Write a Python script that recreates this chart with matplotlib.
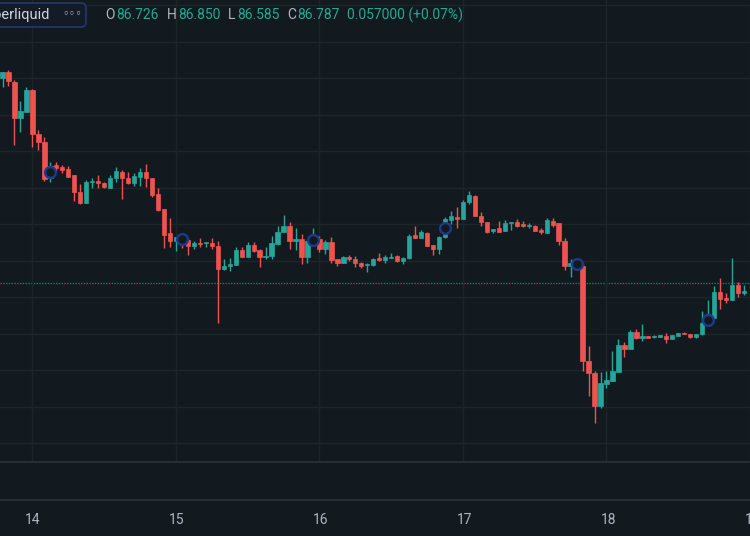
import numpy as np
import matplotlib.pyplot as plt
from matplotlib.patches import FancyBboxPatch

# hourly candles, the first one opens on the 13th at 19:00
first_hour = 19
days = ["14", "15", "16", "17", "18", "19"]

opens = [92.01, 92.16, 91.90, 90.92, 91.08, 91.67, 90.47, 90.25, 89.26, 89.62,
         89.57, 89.50, 89.34, 88.88, 88.58, 89.15, 89.19, 89.12, 88.99, 89.25,
         89.44, 89.26, 89.12, 89.29, 89.43, 89.26, 88.82, 88.40, 87.75, 87.53,
         87.60, 87.56, 87.40, 87.49, 87.47, 87.47, 87.40, 86.77, 86.85, 86.88,
         87.29, 87.10, 87.44, 87.29, 87.09, 87.12, 87.45, 87.79, 87.95, 87.53,
         87.59, 87.10, 87.53, 87.59, 87.31, 87.50, 87.03, 86.94, 87.10, 87.05,
         86.93, 86.88, 86.88, 87.06, 87.01, 87.08, 87.12, 86.98, 87.06, 87.70,
         87.62, 87.75, 87.42, 87.31, 87.65, 88.11, 88.20, 88.14, 88.61, 88.78,
         88.22, 88.06, 87.81, 87.88, 87.81, 88.02, 88.06, 87.99, 87.95, 87.95,
         87.84, 87.76, 88.08, 88.02, 87.54, 86.85, 86.89, 86.85, 84.25, 83.93,
         83.02, 83.61, 83.71, 83.95, 84.68, 84.59, 85.03, 84.89, 84.92, 84.90,
         84.91, 84.93, 84.86, 84.94, 85.02, 84.99, 84.90, 84.98, 85.32, 85.43,
         86.15, 85.98, 85.92, 86.33, 86.10]
highs = [92.18, 92.22, 91.95, 91.38, 91.75, 91.70, 90.59, 90.39, 89.70, 89.71,
         89.61, 89.59, 89.35, 89.09, 89.21, 89.27, 89.34, 89.15, 89.34, 89.57,
         89.48, 89.42, 89.39, 89.55, 89.64, 89.27, 88.99, 88.41, 88.17, 87.65,
         87.67, 87.62, 87.54, 87.61, 87.52, 87.61, 87.54, 87.03, 87.06, 87.36,
         87.36, 87.52, 87.52, 87.33, 87.38, 87.67, 87.95, 88.25, 88.05, 87.88,
         87.72, 87.58, 87.89, 87.67, 87.56, 87.64, 87.04, 87.12, 87.14, 87.12,
         86.95, 86.92, 87.08, 87.20, 87.15, 87.21, 87.14, 87.10, 87.73, 87.95,
         87.85, 87.79, 87.43, 87.68, 88.18, 88.36, 88.46, 88.66, 88.91, 88.79,
         88.34, 88.07, 87.87, 88.08, 88.11, 88.07, 88.14, 88.08, 88.04, 87.97,
         87.90, 88.17, 88.17, 88.03, 87.61, 87.04, 86.96, 86.92, 84.66, 83.98,
         83.95, 83.97, 84.52, 84.85, 84.76, 85.10, 85.12, 85.26, 84.94, 84.95,
         84.96, 85.01, 84.97, 85.02, 85.03, 85.00, 84.99, 85.62, 85.92, 86.30,
         86.51, 86.12, 87.06, 86.42, 86.33]
lows = [91.76, 91.78, 90.16, 90.53, 91.08, 90.12, 90.03, 89.19, 89.16, 89.45,
        89.39, 89.28, 88.64, 88.55, 88.57, 88.99, 88.98, 88.99, 88.98, 89.16,
        88.68, 89.10, 89.05, 89.04, 89.02, 88.75, 88.37, 87.35, 87.38, 87.27,
        87.34, 87.14, 87.32, 87.36, 87.38, 87.32, 85.28, 86.75, 86.72, 86.87,
        87.09, 87.09, 87.24, 86.83, 87.04, 87.03, 87.44, 87.78, 87.33, 87.29,
        86.90, 86.92, 87.48, 87.24, 87.18, 86.94, 86.85, 86.93, 86.99, 86.83,
        86.79, 86.69, 86.86, 86.99, 86.92, 87.06, 86.96, 86.90, 87.05, 87.61,
        87.61, 87.39, 87.15, 87.18, 87.61, 87.99, 87.90, 88.13, 88.55, 88.21,
        87.95, 87.75, 87.75, 87.78, 87.80, 87.85, 87.93, 87.93, 87.88, 87.80,
        87.73, 87.75, 87.93, 87.44, 86.74, 86.56, 86.79, 83.97, 83.30, 82.56,
        82.95, 83.50, 83.70, 83.94, 84.35, 84.58, 84.84, 84.80, 84.87, 84.87,
        84.90, 84.75, 84.85, 84.93, 84.98, 84.89, 84.89, 84.97, 85.29, 85.42,
        85.67, 85.84, 85.91, 86.01, 86.05]
closes = [92.16, 91.92, 90.92, 91.10, 91.67, 90.48, 90.24, 89.23, 89.59, 89.54,
          89.48, 89.30, 88.87, 88.58, 89.16, 89.18, 89.12, 89.01, 89.25, 89.45,
          89.25, 89.12, 89.32, 89.44, 89.25, 88.81, 88.38, 87.70, 87.54, 87.64,
          87.53, 87.40, 87.47, 87.46, 87.50, 87.40, 86.76, 86.86, 86.90, 87.29,
          87.10, 87.44, 87.27, 87.10, 87.12, 87.47, 87.79, 87.95, 87.53, 87.59,
          87.10, 87.53, 87.59, 87.31, 87.50, 87.01, 86.94, 87.10, 87.03, 86.92,
          86.86, 86.91, 87.05, 87.01, 87.10, 87.10, 86.98, 87.07, 87.68, 87.62,
          87.77, 87.41, 87.32, 87.65, 88.13, 88.22, 88.14, 88.61, 88.79, 88.22,
          88.06, 87.77, 87.86, 87.79, 88.04, 88.06, 87.95, 87.95, 87.97, 87.81,
          87.79, 88.11, 87.97, 87.53, 86.85, 86.92, 86.85, 84.25, 83.91, 83.02,
          83.64, 83.73, 83.98, 84.68, 84.57, 85.04, 84.89, 84.94, 84.88, 84.93,
          84.95, 84.86, 84.96, 85.01, 84.99, 84.90, 84.98, 85.30, 85.53, 86.15,
          85.96, 85.92, 86.33, 86.12, 86.17]

# circle markers of the indicator
marker_idx = [8, 30, 52, 74, 96, 118]
marker_price = [89.42, 87.60, 87.56, 87.88, 86.90, 85.37]
price_line = 86.39

header_name = "Hyperliquid"
header_ohlc = ["86.726", "86.850", "86.585", "86.787"]
header_change = "0.057000 (+0.07%)"

BG = "#121a1f"
GRID = "#1b252a"
SEP = "#2a3338"
UP = "#26a69a"
DOWN = "#ef5350"
TXT = "#b2b5be"

plt.rcParams['font.family'] = ['Roboto', 'DejaVu Sans']

o = np.array(opens)
h = np.array(highs)
l = np.array(lows)
c = np.array(closes)
x = np.arange(len(o))
cols = np.where(c >= o, UP, DOWN)

W, H = 750, 536
fig = plt.figure(figsize=(W / 100, H / 100), dpi=100, facecolor=BG)

# main price pane
ax = fig.add_axes([0, 74 / H, 1, 462 / H], facecolor=BG)
ax.set_xlim(-0.42, 124.58)
ax.set_ylim(81.48, 94.14)

day_idx = [i for i in range(len(o) + 1) if (first_hour + i) % 24 == 0]
ax.set_xticks(day_idx)
ax.set_yticks(np.arange(82, 95))
ax.grid(True, color=GRID, linewidth=1)
ax.tick_params(length=0, labelbottom=False, labelleft=False)
for s in ax.spines.values():
    s.set_visible(False)

ax.axhline(price_line, color="#1d7a70", linewidth=1, linestyle=(0, (1, 1)), zorder=1)
ax.vlines(x, l, h, colors=cols, linewidth=1, zorder=2)
ax.bar(x, c - o, bottom=o, width=0.72, color=cols, edgecolor=cols, linewidth=0.5, zorder=3)
ax.scatter(marker_idx, marker_price, s=60, facecolors=BG, edgecolors="#1d3a8a",
           linewidths=1.7, zorder=4)

# empty lower pane with the time scale under it
ax2 = fig.add_axes([0, 36 / H, 1, 38 / H], facecolor=BG)
ax2.set_xlim(-0.42, 124.58)
ax2.set_xticks([])
ax2.set_yticks([])
for s in ("left", "right"):
    ax2.spines[s].set_visible(False)
for s in ("top", "bottom"):
    ax2.spines[s].set_color(SEP)
    ax2.spines[s].set_linewidth(1.2)
for d, lab in zip(day_idx, days):
    ax2.annotate(lab, xy=(d, 0), xycoords=("data", "axes fraction"),
                 xytext=(0, -9), textcoords="offset points", ha="center", va="top",
                 fontsize=10, color=TXT, annotation_clip=False)

# header in pixel coordinates
ov = fig.add_axes([0, 0, 1, 1], zorder=10)
ov.set_xlim(0, W)
ov.set_ylim(H, 0)
ov.axis("off")
ov.add_patch(FancyBboxPatch((-20, 3), 106, 24, boxstyle="round,pad=0,rounding_size=5",
                            facecolor="#131c26", edgecolor="#26386b", linewidth=1.2))
ov.text(50, 15, header_name, ha="right", va="center", fontsize=10.5, color="#d1d4dc")
ov.text(62, 14.5, "\u25e6\u25e6\u25e6", ha="left", va="center", fontsize=8, color="#d1d4dc",
        family="DejaVu Sans")
for lab, val, xl, xv in zip("OHLC", header_ohlc, [105, 167, 228, 287], [116.5, 178, 237, 297]):
    ov.text(xl, 15, lab, ha="left", va="center", fontsize=10, color=TXT)
    ov.text(xv, 15, val, ha="left", va="center", fontsize=10, color="#22ab94")
ov.text(347, 15, header_change, ha="left", va="center", fontsize=10, color="#22ab94")

fig.savefig("out.png", dpi=100, facecolor=BG)
